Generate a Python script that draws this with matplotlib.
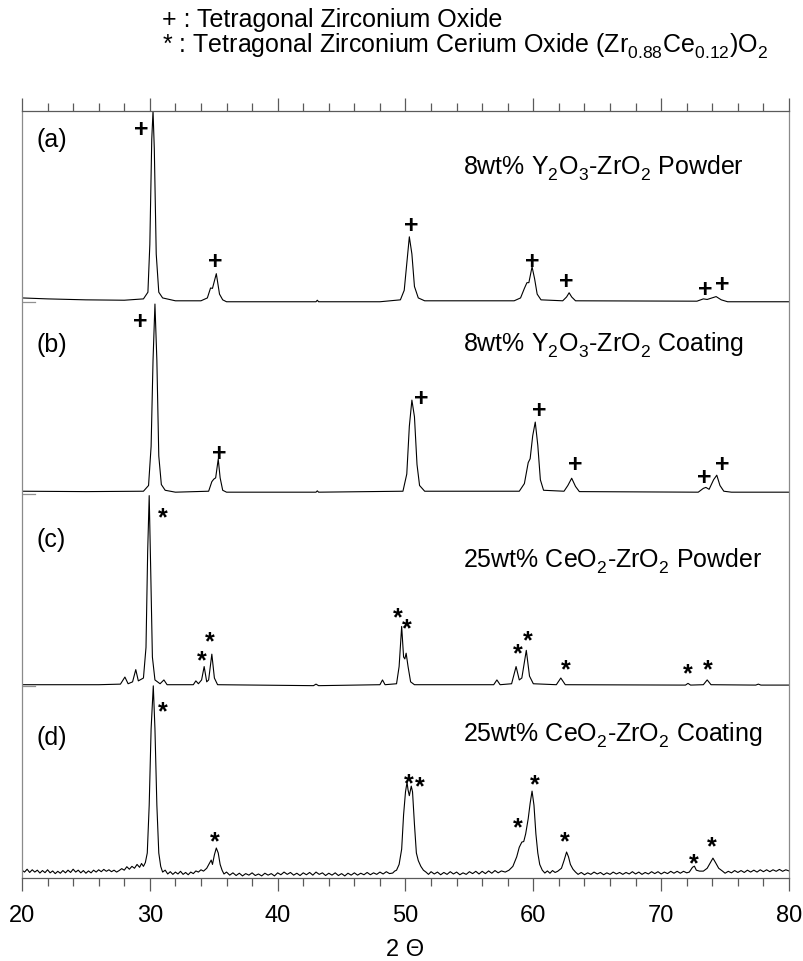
import matplotlib
matplotlib.use('Agg')
import matplotlib.pyplot as plt
from matplotlib.ticker import MultipleLocator
import matplotlib.transforms as mtransforms

plt.rcParams['font.family'] = ['Liberation Sans', 'DejaVu Sans']
plt.rcParams['mathtext.fontset'] = 'custom'
plt.rcParams['mathtext.rm'] = 'Liberation Sans'
plt.rcParams['mathtext.it'] = 'Liberation Sans:italic'
plt.rcParams['mathtext.bf'] = 'Liberation Sans:bold'
try:
    from matplotlib import _mathtext
    _mathtext.FontConstantsBase.subdrop = 1.0
    _mathtext.FontConstantsBase.sub1 = 0.45
except Exception:
    pass

# ---------------- data (2-theta, relative intensity) ----------------
tt_a = [20.0, 22.0, 25.0, 28.0, 29.5, 29.85, 30.0, 30.15, 30.25, 30.35, 30.5, 30.7, 31.0, 32.0,
        34.0, 34.5, 34.75, 34.9, 35.2, 35.45, 35.7, 36.0, 43.0, 43.1, 43.2, 48.0,
        49.6, 49.9, 50.1, 50.3, 50.5, 50.7, 51.0, 51.5, 58.5, 59.0, 59.3, 59.5, 59.65,
        59.9, 60.1, 60.3, 60.6, 62.3, 62.6, 62.8, 63.0, 63.3, 72.8, 73.3, 73.6, 74.3,
        74.7, 75.2, 80.0]
I_a = [0.02, 0.015, 0.01, 0.008, 0.015, 0.05, 0.3, 0.85, 1.0, 0.8, 0.25, 0.05, 0.02, 0.005,
       0.005, 0.02, 0.072, 0.07, 0.147, 0.04, 0.01, 0.0, 0.0, 0.008, 0.0, 0.0,
       0.01, 0.06, 0.2, 0.34, 0.25, 0.08, 0.02, 0.005, 0.005, 0.02, 0.07, 0.1, 0.1,
       0.183, 0.12, 0.04, 0.01, 0.005, 0.025, 0.047, 0.025, 0.005, 0.003, 0.015, 0.012, 0.027,
       0.01, 0.0, 0.0]

tt_b = [20.0, 25.0, 29.5, 29.9, 30.1, 30.25, 30.4, 30.55, 30.7, 30.9, 31.2, 32.0,
        34.6, 34.85, 35.0, 35.15, 35.35, 35.5, 35.7, 36.0, 43.0, 43.1, 43.2,
        49.8, 50.1, 50.3, 50.5, 50.7, 50.9, 51.1, 51.5, 58.9, 59.3, 59.6, 59.75, 59.95,
        60.15, 60.35, 60.55, 60.8, 62.4, 62.7, 63.0, 63.3, 63.6, 72.9, 73.3, 73.5, 73.75,
        74.1, 74.35, 74.6, 74.9, 75.5, 80.0]
I_b = [0.015, 0.013, 0.015, 0.045, 0.25, 0.7, 0.995, 0.7, 0.2, 0.05, 0.02, 0.01,
       0.015, 0.065, 0.078, 0.085, 0.183, 0.085, 0.02, 0.01, 0.01, 0.017, 0.01,
       0.015, 0.105, 0.355, 0.492, 0.405, 0.155, 0.045, 0.015, 0.015, 0.055, 0.165, 0.185, 0.305,
       0.377, 0.255, 0.075, 0.02, 0.015, 0.045, 0.083, 0.04, 0.013, 0.01, 0.03, 0.035, 0.025,
       0.075, 0.099, 0.045, 0.015, 0.01, 0.01]

tt_c = [20.0, 26.0, 27.7, 28.05, 28.3, 28.65, 28.9, 29.1, 29.5, 29.7, 29.83, 29.95, 30.07,
        30.2, 30.4, 30.8, 31.1, 31.35, 33.4, 33.6, 33.8, 34.05, 34.25, 34.45, 34.6, 34.85,
        35.05, 35.3, 42.8, 43.0, 43.2, 48.0, 48.2, 48.4, 49.3, 49.5, 49.7, 49.85, 49.95,
        50.05, 50.2, 50.4, 50.7, 56.9, 57.15, 57.4, 58.3, 58.65, 58.9, 59.1, 59.45, 59.7,
        60.0, 61.8, 62.15, 62.5, 71.9, 72.1, 72.3, 73.3, 73.6, 73.9, 77.4, 77.6, 77.8, 80.0]
I_c = [0.005, 0.005, 0.008, 0.045, 0.01, 0.02, 0.084, 0.025, 0.04, 0.2, 0.7, 0.995, 0.6,
       0.15, 0.03, 0.01, 0.03, 0.005, 0.005, 0.025, 0.01, 0.03, 0.1, 0.02, 0.03, 0.165,
       0.04, 0.005, 0.0, 0.008, 0.0, 0.005, 0.03, 0.005, 0.01, 0.1, 0.31, 0.15, 0.14,
       0.17, 0.1, 0.02, 0.005, 0.005, 0.03, 0.005, 0.01, 0.1, 0.03, 0.04, 0.185, 0.05,
       0.01, 0.005, 0.04, 0.005, 0.003, 0.012, 0.003, 0.005, 0.03, 0.005, 0.003, 0.008, 0.003, 0.003]

d_points = [
    (20.0, 0.01), (20.2, 0.0), (20.4, 0.015), (20.6, -0.002), (20.8, 0.012), (21.0, 0.0),
    (21.2, 0.01), (21.4, -0.005), (21.6, 0.008), (21.8, -0.003), (22.0, 0.012), (22.2, -0.004),
    (22.4, 0.006), (22.6, -0.008), (22.8, 0.004), (23.0, -0.006), (23.2, 0.008), (23.4, -0.004),
    (23.6, 0.01), (23.8, -0.002), (24.0, 0.015), (24.2, 0.0), (24.4, 0.01), (24.6, -0.004),
    (24.8, 0.008), (25.0, -0.006), (25.2, 0.006), (25.4, -0.004), (25.6, 0.01), (25.8, 0.0),
    (26.0, 0.012), (26.2, 0.002), (26.4, 0.014), (26.6, 0.004), (26.8, 0.012), (27.0, 0.002),
    (27.2, 0.01), (27.4, 0.0), (27.6, 0.008), (27.8, 0.018), (28.0, 0.01), (28.2, 0.028),
    (28.4, 0.015), (28.6, 0.03), (28.8, 0.02), (29.0, 0.04), (29.2, 0.025), (29.35, 0.045),
    (29.5, 0.03), (29.65, 0.05), (29.8, 0.1), (29.95, 0.35), (30.1, 0.75), (30.27, 0.975),
    (30.4, 0.75), (30.55, 0.35), (30.7, 0.1), (30.85, 0.03), (31.0, 0.0), (31.2, 0.01),
    (31.4, -0.01), (31.6, 0.002), (31.8, -0.012), (32.0, 0.0), (32.2, -0.01), (32.4, 0.004),
    (32.6, -0.012), (32.8, -0.002), (33.0, -0.014), (33.2, 0.0), (33.4, -0.008), (33.6, 0.006),
    (33.8, 0.0), (34.0, 0.012), (34.2, 0.005), (34.45, 0.02), (34.65, 0.045), (34.8, 0.063),
    (34.9, 0.04), (35.05, 0.09), (35.2, 0.126), (35.35, 0.1), (35.5, 0.04), (35.65, 0.01),
    (35.8, -0.01), (36.0, 0.0), (36.25, -0.016), (36.5, -0.004), (36.75, -0.018), (37.0, -0.006),
    (37.25, -0.02), (37.5, -0.008), (37.75, -0.016), (38.0, -0.004), (38.25, -0.018), (38.5, -0.01),
    (38.75, -0.02), (39.0, -0.006), (39.25, -0.016), (39.5, -0.008), (39.75, -0.02), (40.0, -0.004),
    (40.25, -0.014), (40.5, 0.0), (40.75, -0.012), (41.0, -0.002), (41.25, -0.016), (41.5, -0.006),
    (41.75, -0.018), (42.0, -0.004), (42.25, -0.014), (42.5, -0.002), (42.75, -0.016), (43.0, 0.0),
    (43.25, -0.012), (43.5, -0.004), (43.75, -0.018), (44.0, -0.006), (44.25, -0.016), (44.5, -0.004),
    (44.75, -0.018), (45.0, -0.008), (45.25, -0.02), (45.5, -0.006), (45.75, -0.016), (46.0, -0.004),
    (46.25, -0.016), (46.5, -0.006), (46.75, -0.014), (47.0, -0.002), (47.25, -0.014), (47.5, -0.004),
    (47.75, -0.012), (48.0, 0.0), (48.25, -0.01), (48.5, 0.002), (48.75, -0.008), (49.0, -0.005),
    (49.15, 0.005), (49.3, 0.01), (49.5, 0.04), (49.7, 0.12), (49.85, 0.3), (50.0, 0.42),
    (50.12, 0.47), (50.2, 0.43), (50.3, 0.4), (50.45, 0.45), (50.55, 0.42), (50.7, 0.25),
    (50.85, 0.1), (51.0, 0.06), (51.2, 0.03), (51.4, 0.01), (51.6, 0.0), (51.8, -0.012),
    (52.0, 0.002), (52.25, -0.01), (52.5, 0.0), (52.75, -0.014), (53.0, -0.002), (53.25, -0.012),
    (53.5, 0.002), (53.75, -0.01), (54.0, 0.0), (54.25, -0.014), (54.5, -0.004), (54.75, -0.012),
    (55.0, 0.002), (55.25, -0.008), (55.5, 0.004), (55.75, -0.01), (56.0, 0.004), (56.25, -0.008),
    (56.5, 0.006), (56.75, -0.006), (57.0, 0.008), (57.25, -0.004), (57.5, 0.006), (57.8, 0.0),
    (58.1, 0.01), (58.4, 0.03), (58.7, 0.08), (58.9, 0.13), (59.1, 0.157), (59.25, 0.16),
    (59.4, 0.2), (59.6, 0.28), (59.75, 0.36), (59.9, 0.424), (60.05, 0.35), (60.2, 0.2),
    (60.35, 0.1), (60.5, 0.04), (60.7, 0.01), (60.9, -0.005), (61.1, 0.006), (61.3, -0.006),
    (61.5, 0.008), (61.7, -0.002), (61.9, 0.004), (62.2, 0.02), (62.4, 0.06), (62.6, 0.105),
    (62.75, 0.08), (62.9, 0.04), (63.1, 0.015), (63.3, 0.0), (63.5, -0.012), (63.75, -0.002),
    (64.0, -0.014), (64.25, -0.004), (64.5, -0.012), (64.75, 0.0), (65.0, -0.01), (65.25, -0.002),
    (65.5, -0.014), (65.75, -0.004), (66.0, -0.012), (66.25, 0.0), (66.5, -0.01), (66.75, -0.002),
    (67.0, -0.012), (67.25, -0.002), (67.5, -0.01), (67.75, 0.002), (68.0, -0.01), (68.25, 0.0),
    (68.5, -0.012), (68.75, -0.002), (69.0, -0.01), (69.25, 0.002), (69.5, -0.008), (69.75, 0.002),
    (70.0, -0.01), (70.25, 0.0), (70.5, -0.008), (70.75, 0.004), (71.0, -0.006), (71.25, 0.004),
    (71.5, -0.006), (71.75, 0.004), (72.0, -0.004), (72.2, 0.0), (72.45, 0.025), (72.6, 0.031),
    (72.75, 0.01), (73.0, 0.005), (73.3, 0.005), (73.6, 0.02), (73.85, 0.05), (74.05, 0.073),
    (74.25, 0.05), (74.5, 0.02), (74.8, 0.005), (75.0, -0.006), (75.25, 0.004), (75.5, -0.004),
    (75.75, 0.008), (76.0, -0.002), (76.25, 0.008), (76.5, -0.002), (76.75, 0.01), (77.0, 0.0),
    (77.25, 0.01), (77.5, 0.0), (77.75, 0.012), (78.0, 0.002), (78.25, 0.012), (78.5, 0.002),
    (78.75, 0.012), (79.0, 0.004), (79.25, 0.014), (79.5, 0.004), (79.75, 0.012), (80.0, 0.006),
]
tt_d = [p[0] for p in d_points]
I_d = [p[1] for p in d_points]

offsets = [3.017, 2.010, 1.007, 0.031]
panel_tags = ['(a)', '(b)', '(c)', '(d)']
sample_names = [r'8wt% Y$\mathregular{_2}$O$\mathregular{_3}$-ZrO$\mathregular{_2}$ Powder',
                r'8wt% Y$\mathregular{_2}$O$\mathregular{_3}$-ZrO$\mathregular{_2}$ Coating',
                r'25wt% CeO$\mathregular{_2}$-ZrO$\mathregular{_2}$ Powder',
                r'25wt% CeO$\mathregular{_2}$-ZrO$\mathregular{_2}$ Coating']

# phase markers: (2theta, y)
marks_a = [(29.36, 3.934), (35.10, 3.241), (50.43, 3.433), (59.95, 3.241), (62.61, 3.140),
           (73.43, 3.098), (74.79, 3.122)]
marks_b = [(29.23, 2.930), (35.41, 2.237), (51.27, 2.525), (60.44, 2.464), (63.31, 2.180),
           (73.38, 2.115), (74.79, 2.181)]
marks_c = [(31.0, 1.928), (34.06, 1.182), (34.71, 1.283), (49.41, 1.408), (50.09, 1.347),
           (58.75, 1.216), (59.56, 1.289), (62.56, 1.133), (72.05, 1.112), (73.61, 1.133)]
marks_d = [(31.0, 0.915), (35.05, 0.234), (50.22, 0.539), (51.08, 0.522), (58.75, 0.309),
           (60.08, 0.532), (62.43, 0.234), (72.57, 0.117), (73.95, 0.208)]

legend_lines = ['+ : Tetragonal Zirconium Oxide',
                r'* : Tetragonal Zirconium Cerium Oxide (Zr$\mathregular{_{0.88}}$Ce$\mathregular{_{0.12}}$)O$\mathregular{_2}$']

# ---------------- figure ----------------
fig = plt.figure(figsize=(8.04, 9.62), dpi=100)
ax = fig.add_axes([22 / 804, 1 - 879 / 962, (789 - 22) / 804, (879 - 111.7) / 962])

FS = 18
spine_col = '#5a5a5a'
for tt, I, off in zip([tt_a, tt_b, tt_c, tt_d], [I_a, I_b, I_c, I_d], offsets):
    ax.plot(tt, [v + off for v in I], color='black', lw=0.8)

# small zero markers at left for stacked patterns
for off in offsets[:3]:
    ax.plot([0.0, 0.017], [off, off], color='#909090', lw=0.9,
            transform=mtransforms.blended_transform_factory(ax.transAxes, ax.transData))

tag_y = [3.869, 2.796, 1.775, 0.738]
for tag, y in zip(panel_tags, tag_y):
    ax.text(21.17, y, tag, fontsize=FS, ha='left', va='center')

name_y = [3.686, 2.761, 1.632, 0.719]
for name, y in zip(sample_names, name_y):
    ax.text(54.5, y, name, fontsize=FS, ha='left', va='baseline')

for sym, marks, dy in [('+', marks_a, -1.8), ('+', marks_b, -1.8), ('*', marks_c, -5.8), ('*', marks_d, -5.8)]:
    for x, y in marks:
        ax.annotate(sym, (x, y), xytext=(0, dy), textcoords='offset points',
                    fontsize=FS, fontweight='bold', ha='center', va='center')

ax.set_xlim(20, 80)
ax.set_ylim(0, (879 - 111.7) / 191)
ax.xaxis.set_major_locator(MultipleLocator(10))
ax.xaxis.set_minor_locator(MultipleLocator(2))
ax.set_yticks([])
ax.tick_params(axis='x', which='both', direction='out', top=True, bottom=True,
               labeltop=False, labelbottom=True, colors=spine_col, labelcolor='black',
               labelsize=17, pad=9)
ax.tick_params(axis='x', which='major', length=9.4, width=0.9)
ax.tick_params(axis='x', which='minor', length=5.8, width=0.9)
for s in ax.spines.values():
    s.set_color(spine_col)
    s.set_linewidth(0.9)
ax.spines['left'].set_color('#8a8a8a')
ax.spines['right'].set_color('#8a8a8a')

fig.text(405 / 804, 1 - 950 / 962, '2 Θ', fontsize=17, ha='center', va='center')

fig.text(162 / 804, 1 - 27 / 962, legend_lines[0], fontsize=FS, ha='left', va='baseline')
fig.text(162 / 804, 1 - 53 / 962, legend_lines[1], fontsize=FS, ha='left', va='baseline')

fig.savefig('out.png', dpi=100)
